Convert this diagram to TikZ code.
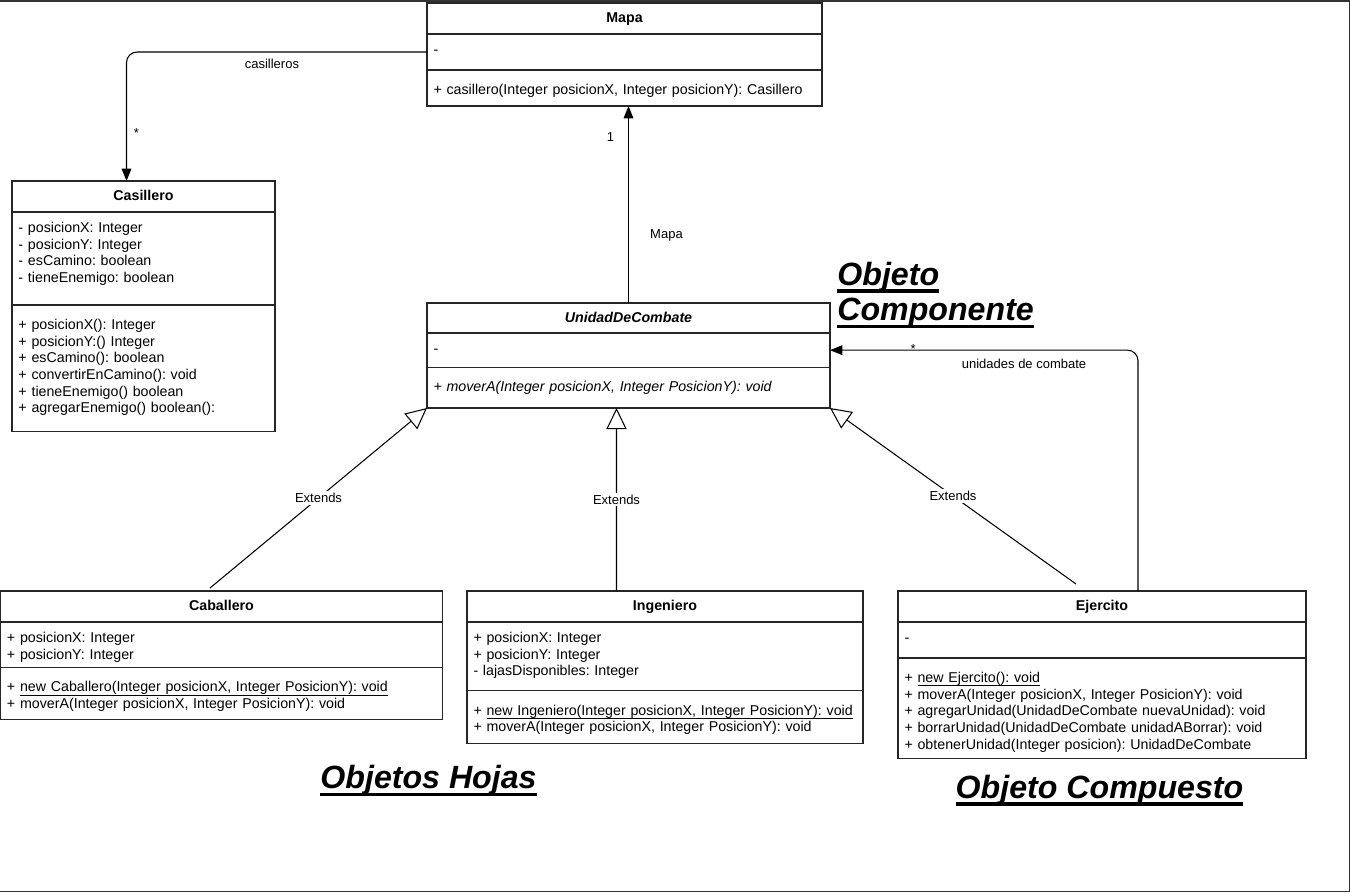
\documentclass[tikz,border=0pt]{standalone}
\usepackage{fontspec}
\setmainfont{Liberation Sans}
\usetikzlibrary{positioning,arrows.meta,calc}

\newdimen\PXd \PXd=0.02cm
\newcommand{\umlfont}{\fontsize{8.1}{9.5}\selectfont\frenchspacing}
\newcommand{\lblfont}{\fontsize{7.4}{9}\selectfont}
\newcommand{\bigfont}{\fontsize{18.3}{20.3}\selectfont\bfseries\itshape}
% underline: depth, thickness, text
\newcommand{\ulx}[3]{\leavevmode\sbox0{#3}\rlap{\usebox0}\rule[-#1]{\wd0}{#2}}
\newcommand{\ctor}[1]{\ulx{2pt}{0.45pt}{#1}}
\newcommand{\bigul}[1]{\ulx{4.4pt}{1.9pt}{#1}}

\begin{document}
\begin{tikzpicture}[x=0.02cm, y=-0.02cm,
    cls/.style={draw=black!85, line width=0.6pt, outer sep=0pt, inner xsep=6.5\PXd,
      inner ysep=0pt, align=left, font=\umlfont, text width=#1\PXd},
    head/.style={cls=#1, align=center, font=\umlfont\bfseries, anchor=north,
      text height=19.5\PXd, text depth=11.5\PXd},
    attrs/.style={cls=#1, text height=20.5\PXd},
    opers/.style={cls=#1, text height=24.5\PXd},
    lbl/.style={font=\lblfont, inner sep=1pt},
    big/.style={font=\bigfont, inner sep=0pt},
    assoc/.style={-{Triangle[length=7pt,width=5.5pt]}, line width=0.6pt, rounded corners=6pt},
    ext/.style={-{Triangle[open,length=12pt,width=11.5pt]}, line width=0.6pt}]
    \useasboundingbox (0,0) rectangle (1351,893);
    \draw[line width=1.1pt, black!80] (0,1) -- (1349.5,1) -- (1349.5,891.5) -- (0,891.5);

    % classes
    \node[head=382] (mapa) at (624.5,3) {Mapa};
    \node[attrs=382, text depth=15.5\PXd, below=0pt of mapa] (mapa-a) {-};
    \node[opers=382, text depth=11.5\PXd, below=0pt of mapa-a] (mapa-m)
        {+ casillero(Integer posicionX, Integer posicionY): Casillero};

    \node[head=250] (casillero) at (143.5,181) {Casillero};
    \node[attrs=250, text depth=72.5\PXd, below=0pt of casillero] (casillero-a)
        {- posicionX: Integer\\- posicionY: Integer\\- esCamino: boolean\\- tieneEnemigo: boolean};
    \node[opers=250, text depth=101.8\PXd, below=0pt of casillero-a] (casillero-m)
        {+ posicionX(): Integer\\+ posicionY:() Integer\\+ esCamino(): boolean\\+ convertirEnCamino(): void\\+ tieneEnemigo() boolean\\+ agregarEnemigo() boolean():};

    \node[head=390, text depth=10.5\PXd] (unidad) at (628.5,303) {\textit{UnidadDeCombate}};
    \node[attrs=390, text depth=13.8\PXd, below=0pt of unidad] (unidad-a) {-};
    \node[opers=390, text depth=16.2\PXd, below=0pt of unidad-a] (unidad-m)
        {\textit{+ moverA(Integer posicionX, Integer PosicionY): void}};

    \node[head=429] (caballero) at (221.5,591) {Caballero};
    \node[attrs=429, text depth=24.9\PXd, below=0pt of caballero] (caballero-a)
        {+ posicionX: Integer\\+ posicionY: Integer};
    \node[opers=429, text depth=27.8\PXd, below=0pt of caballero-a] (caballero-m)
        {+ \ctor{new Caballero(Integer posicionX, Integer PosicionY): void}\\+ moverA(Integer posicionX, Integer PosicionY): void};

    \node[head=383] (ingeniero) at (665,591) {Ingeniero};
    \node[attrs=383, text depth=48.2\PXd, below=0pt of ingeniero] (ingeniero-a)
        {+ posicionX: Integer\\+ posicionY: Integer\\- lajasDisponibles: Integer};
    \node[opers=383, text depth=28.5\PXd, below=0pt of ingeniero-a] (ingeniero-m)
        {+ \ctor{new Ingeniero(Integer posicionX, Integer PosicionY): void}\\+ moverA(Integer posicionX, Integer PosicionY): void};

    \node[head=395] (ejercito) at (1102,591) {Ejercito};
    \node[attrs=395, text depth=15.5\PXd, below=0pt of ejercito] (ejercito-a) {-};
    \node[opers=395, text depth=76.2\PXd, below=0pt of ejercito-a] (ejercito-m)
        {+ \ctor{new Ejercito(): void}\\+ moverA(Integer posicionX, Integer PosicionY): void\\+ agregarUnidad(UnidadDeCombate nuevaUnidad): void\\+ borrarUnidad(UnidadDeCombate unidadABorrar): void\\+ obtenerUnidad(Integer posicion): UnidadDeCombate};

    % titles
    \node[big, text width=240\PXd, align=left, anchor=base west] (componente) at (837,285)
        {\bigul{Objeto}\\\bigul{Componente}};
    \node[big, anchor=base] (hojas) at (428.5,788.5) {\bigul{Objetos Hojas}};
    \node[big, anchor=base] (compuesto) at (1099.5,798) {\bigul{Objeto Compuesto}};

    % associations
    \draw[assoc] (mapa-a.west) -| node[lbl, pos=0.258, yshift=-12.2\PXd] {casilleros}
        node[lbl, pos=0.814, xshift=10\PXd] {*} ($(casillero.north)+(-17,0)$);
    \draw[assoc] (unidad.north) -- node[lbl, pos=0.345, xshift=38\PXd] {Mapa}
        node[lbl, pos=0.843, xshift=-18\PXd] {1} (unidad.north |- mapa-m.south);
    \draw[assoc] ($(ejercito.north)+(36,0)$) |- node[lbl, pos=0.865, yshift=1\PXd] {*}
        node[lbl, pos=0.685, yshift=-14\PXd] {unidades de combate} (unidad-a.east);

    % inheritance
    \draw[ext] ($(caballero.north)+(-11.5,-3)$) -- node[lbl, fill=white] {Extends} (unidad-m.south west);
    \draw[ext] ($(ingeniero.north)+(-48.5,0)$) -- node[lbl, fill=white] {Extends} ($(unidad-m.south)+(-12,0)$);
    \draw[ext] ($(ejercito.north)+(-26,-7)$) -- node[lbl, fill=white] {Extends} (unidad-m.south east);
\end{tikzpicture}
\end{document}
